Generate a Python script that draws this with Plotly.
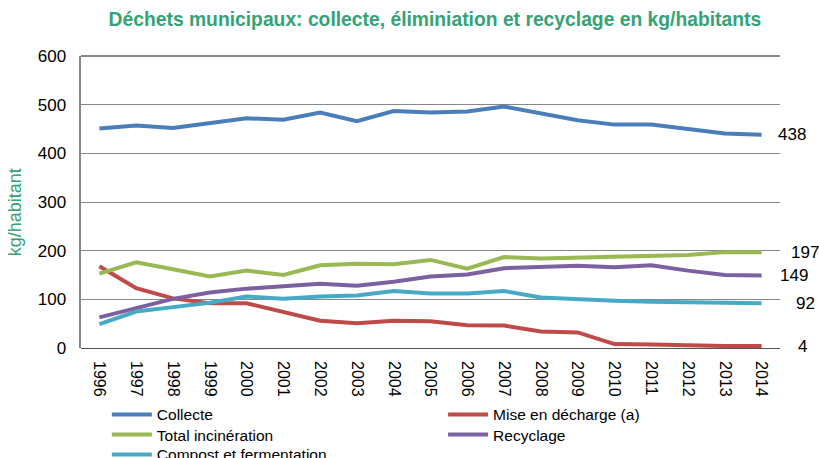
import plotly.graph_objects as go

years = [str(y) for y in range(1996, 2015)]

collecte = [451, 457, 452, 461, 472, 469, 484, 466, 487, 484, 486, 496, 481, 468, 459, 459, 450, 441, 438]
mise_en_decharge = [168, 123, 102, 92, 92, 73, 56, 51, 56, 55, 47, 46, 34, 32, 8, 7, 5, 4, 4]
incineration = [153, 176, 162, 147, 159, 150, 170, 173, 172, 181, 163, 187, 184, 186, 186, 190, 191, 197, 197]
recyclage = [63, 81, 101, 114, 122, 127, 132, 128, 136, 147, 151, 164, 167, 169, 166, 170, 159, 150, 149]
compost = [49, 75, 84, 93, 106, 101, 106, 108, 117, 112, 112, 117, 104, 100, 97, 95, 94, 91, 92]

end_labels = ['438', '4', '197', '149', '92']

# name, values, colour, legend slot
series = [
    ('Collecte', collecte, '#4a7ebb', 'legend'),
    ('Mise en décharge (a)', mise_en_decharge, '#be4b48', 'legend2'),
    ('Total incinération', incineration, '#98b954', 'legend3'),
    ('Recyclage', recyclage, '#7d60a0', 'legend4'),
    ('Compost et fermentation', compost, '#46aac5', 'legend5'),
]

GREEN = '#35a275'

fig = go.Figure()

for name, vals, color, leg in series:
    fig.add_trace(go.Scatter(
        x=years, y=vals, name=name, mode='lines', legend=leg,
        line=dict(color=color, width=4)
    ))

# value labels at the end of each line
label_shift = [-4, 16, 9, -2, 14]
for (name, vals, color, leg), txt, dx in zip(series, end_labels, label_shift):
    fig.add_annotation(
        xref='paper', x=1, yref='y', y=vals[-1], text=txt, showarrow=False,
        xanchor='left', xshift=dx, font=dict(size=17, color='black')
    )

# y axis title placed by hand
fig.add_annotation(
    xref='paper', x=-0.094, yref='paper', y=0.466, text='kg/habitant',
    textangle=-90, showarrow=False, xanchor='center', yanchor='middle',
    font=dict(size=18, color=GREEN)
)

# one small legend per entry so the rows sit as tight as in the original
def legend_box(x, y):
    return dict(x=x, y=y, xanchor='left', yanchor='middle', orientation='v',
                font=dict(size=15.5), itemwidth=40, bgcolor='rgba(0,0,0,0)')

fig.update_layout(
    width=819, height=458,
    paper_bgcolor='white', plot_bgcolor='white',
    font=dict(family='Liberation Sans, Arial, sans-serif', color='black'),
    title=dict(
        text='<b>Déchets municipaux: collecte, éliminiation et recyclage en kg/habitants</b>',
        font=dict(size=19.3, color=GREEN),
        x=0.531, xanchor='center', y=0.959, yanchor='middle'
    ),
    margin=dict(l=81, r=39, t=56, b=110, autoexpand=False),
    showlegend=True,
    legend=legend_box(0.037, -0.229),
    legend2=legend_box(0.518, -0.229),
    legend3=legend_box(0.037, -0.298),
    legend4=legend_box(0.518, -0.298),
    legend5=legend_box(0.037, -0.366),
    xaxis=dict(
        type='category', range=[-0.5, 18.5], tickangle=90, automargin=False,
        showgrid=False, showline=False, ticks='', ticklabelstandoff=12,
        tickfont=dict(size=16)
    ),
    yaxis=dict(
        range=[0, 600], dtick=100, showgrid=True, gridcolor='#868686', gridwidth=1,
        showline=True, linecolor='#868686', linewidth=2, ticks='', automargin=False,
        zeroline=True, zerolinecolor='#555555', zerolinewidth=1,
        tickfont=dict(size=17), ticksuffix='  '
    ),
)

# top border of the plot area
fig.add_shape(type='line', xref='paper', yref='paper', x0=0, x1=1, y0=1, y1=1,
              line=dict(color='#868686', width=2))

# drop the default page margin so the figure fills the window exactly
fig.write_html(
    'out.html',
    config={'displayModeBar': False},
    post_script="document.body.style.margin='0';document.body.style.overflow='hidden';"
)
